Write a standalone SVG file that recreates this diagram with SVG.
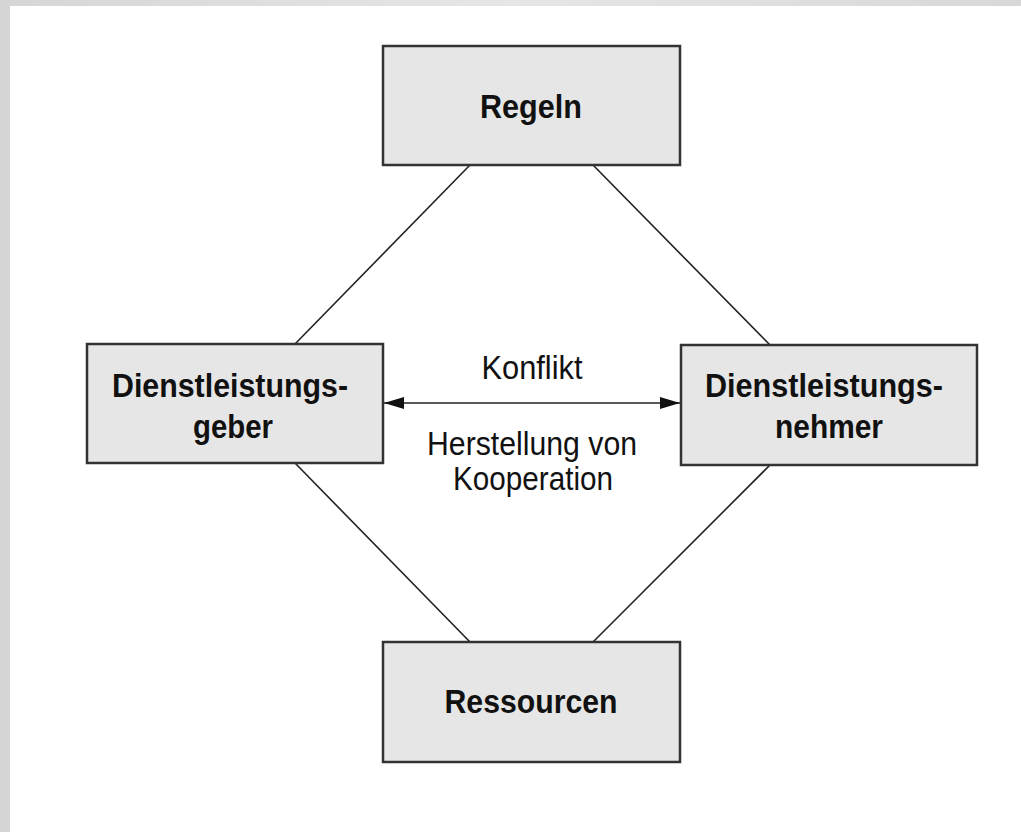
<svg xmlns="http://www.w3.org/2000/svg" width="1021" height="832" viewBox="0 0 1021 832">
  <defs>
    <linearGradient id="topband" x1="0" y1="0" x2="1" y2="0">
      <stop offset="0" stop-color="#d6d6d6"/>
      <stop offset="0.5" stop-color="#e6e6e6"/>
      <stop offset="1" stop-color="#d8d8d8"/>
    </linearGradient>
    <marker id="arrow" viewBox="0 0 20 12" refX="20" refY="6" markerWidth="20" markerHeight="12" markerUnits="userSpaceOnUse" orient="auto-start-reverse">
      <path d="M0,0 L20,6 L0,12 Z" fill="#111"/>
    </marker>
  </defs>
  <style>
    .box { fill: #e6e6e6; stroke: #333; stroke-width: 2.5; }
    .lbl { font-family: "Liberation Sans", Arial, sans-serif; font-weight: bold; font-size: 34px; fill: #111; text-anchor: middle; }
    .edge { font-family: "Liberation Sans", Arial, sans-serif; font-size: 34px; fill: #111; text-anchor: middle; }
    .conn { stroke: #222; stroke-width: 1.6; fill: none; }
  </style>
  <rect x="0" y="0" width="1021" height="832" fill="#ffffff"/>
  <rect x="0" y="0" width="1021" height="6" fill="url(#topband)"/>
  <rect x="0" y="0" width="10" height="832" fill="#d6d6d6"/>

  <g id="connectors">
    <line class="conn" x1="470" y1="165" x2="295" y2="344"/>
    <line class="conn" x1="593" y1="165" x2="770" y2="345"/>
    <line class="conn" x1="295" y1="463" x2="470" y2="642"/>
    <line class="conn" x1="770" y1="465" x2="593" y2="642"/>
    <line class="conn" x1="384" y1="403" x2="680" y2="403" marker-start="url(#arrow)" marker-end="url(#arrow)"/>
    <text class="edge" x="532" y="379" textLength="101" lengthAdjust="spacingAndGlyphs">Konflikt</text>
    <text class="edge" x="532" y="455" textLength="210" lengthAdjust="spacingAndGlyphs">Herstellung von</text>
    <text class="edge" x="533" y="490" textLength="160" lengthAdjust="spacingAndGlyphs">Kooperation</text>
  </g>

  <g id="regeln">
    <rect class="box" x="383" y="46" width="297" height="119"/>
    <text class="lbl" x="531" y="118" textLength="102" lengthAdjust="spacingAndGlyphs">Regeln</text>
  </g>

  <g id="dienstleistungsgeber">
    <rect class="box" x="87" y="344" width="296" height="119"/>
    <text class="lbl" x="230" y="397" textLength="236" lengthAdjust="spacingAndGlyphs">Dienstleistungs-</text>
    <text class="lbl" x="233" y="438" textLength="80" lengthAdjust="spacingAndGlyphs">geber</text>
  </g>

  <g id="dienstleistungsnehmer">
    <rect class="box" x="681" y="345" width="296" height="120"/>
    <text class="lbl" x="824" y="397" textLength="238" lengthAdjust="spacingAndGlyphs">Dienstleistungs-</text>
    <text class="lbl" x="829" y="438" textLength="108" lengthAdjust="spacingAndGlyphs">nehmer</text>
  </g>

  <g id="ressourcen">
    <rect class="box" x="383" y="642" width="297" height="120"/>
    <text class="lbl" x="531" y="713" textLength="173" lengthAdjust="spacingAndGlyphs">Ressourcen</text>
  </g>
</svg>
